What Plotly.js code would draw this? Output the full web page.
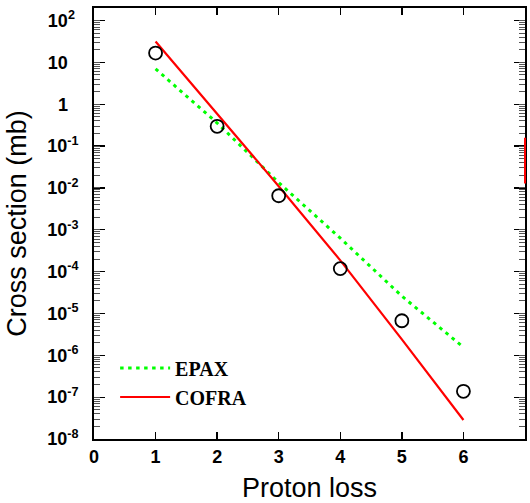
<!DOCTYPE html>
<html>
<head>
<meta charset="utf-8">
<script src="https://cdn.plot.ly/plotly-3.0.1.min.js"></script>
<style>html,body{margin:0;padding:0;background:#fff;}#chart{width:530px;height:503px;}</style>
</head>
<body>
<div id="chart"></div>
<script>
// ---- data ----
const protonLoss = [1, 2, 3, 4, 5, 6];
const measured = [16.7, 0.297, 6.5e-3, 1.18e-4, 6.7e-6, 1.38e-7];
const epax = [7.0, 0.356, 0.0134, 6.3e-4, 2.6e-5, 1.56e-6];
const cofra = [31.6, 0.58, 0.0110, 1.86e-4, 2.4e-6, 2.85e-8];
const xTickVals = [0, 1, 2, 3, 4, 5, 6, 7];
const yTickVals = [1e-8, 1e-7, 1e-6, 1e-5, 1e-4, 1e-3, 1e-2, 1e-1, 1, 10, 100];
const yTickText = ['10<sup>-8</sup>', '10<sup>-7</sup>', '10<sup>-6</sup>', '10<sup>-5</sup>',
  '10<sup>-4</sup>', '10<sup>-3</sup>', '10<sup>-2</sup>', '10<sup>-1</sup>',
  '1<sup>\u00a0\u00a0\u00a0</sup>', '10<sup>\u00a0\u00a0\u00a0</sup>', '10<sup>2\u00a0</sup>'];
const edgeMarkY = [0.0128, 0.158];

const tickFont = {family: 'Liberation Sans, Arial, sans-serif', size: 18, color: '#000', weight: 'bold'};
const titleFont = {family: 'Liberation Sans, Arial, sans-serif', size: 27, color: '#000'};

const traces = [
  {x: protonLoss, y: epax, name: 'EPAX', type: 'scatter', mode: 'lines',
   line: {color: '#00ff00', width: 3, dash: '3.5px,4.5px'}},
  {x: protonLoss, y: cofra, name: 'COFRA', type: 'scatter', mode: 'lines',
   line: {color: '#ff0000', width: 2.2}},
  {x: protonLoss, y: measured, name: 'data', type: 'scatter', mode: 'markers', showlegend: false,
   marker: {symbol: 'circle-open', size: 13, color: '#000', line: {width: 1.8, color: '#000'}}},
  {x: [], y: [], yaxis: 'y2', type: 'scatter', mode: 'markers', showlegend: false, hoverinfo: 'skip'}
];

const layout = {
  width: 530, height: 503,
  margin: {l: 94, r: 5, t: 8, b: 64},
  paper_bgcolor: '#fff', plot_bgcolor: '#fff',
  showlegend: true,
  legend: {x: 0.049, y: 0.21, xanchor: 'left', yanchor: 'top', bgcolor: 'rgba(0,0,0,0)',
    itemwidth: 50,
    font: {family: 'Liberation Serif, Times New Roman, serif', size: 20, color: '#000', weight: 'bold'},
    tracegroupgap: 0},
  xaxis: {range: [0, 7], tickvals: xTickVals, ticks: 'inside', ticklen: 7, tickwidth: 1.3,
    tickcolor: '#000', showline: true, linewidth: 2, linecolor: '#000', mirror: 'ticks',
    showgrid: false, zeroline: false, tickfont: tickFont,
    title: {text: 'Proton loss', font: titleFont, standoff: 14}},
  yaxis: {type: 'log', range: [-8, 2.3], tickmode: 'array', tickvals: yTickVals, ticktext: yTickText,
    ticks: 'inside', ticklen: 11, tickwidth: 1.3, tickcolor: '#000', showline: true, linewidth: 2,
    linecolor: '#000', mirror: 'ticks', showgrid: false, zeroline: false, tickfont: tickFont,
    ticklabelstandoff: 10,
    title: {text: 'Cross section (mb)', font: titleFont, standoff: 13}},
  yaxis2: {type: 'log', range: [-8, 2.3], overlaying: 'y', side: 'left', tickmode: 'linear',
    tick0: 0, dtick: 'D1', ticks: 'inside', ticklen: 6, tickwidth: 1, tickcolor: '#555',
    showticklabels: false, showline: false, mirror: 'ticks', showgrid: false, zeroline: false},
  shapes: [{type: 'line', xref: 'paper', yref: 'y', x0: 1, x1: 1, y0: edgeMarkY[0], y1: edgeMarkY[1],
    line: {color: '#ff0000', width: 2}, layer: 'above'}]
};

Plotly.newPlot('chart', traces, layout, {displayModeBar: false, staticPlot: true});
</script>
</body>
</html>
